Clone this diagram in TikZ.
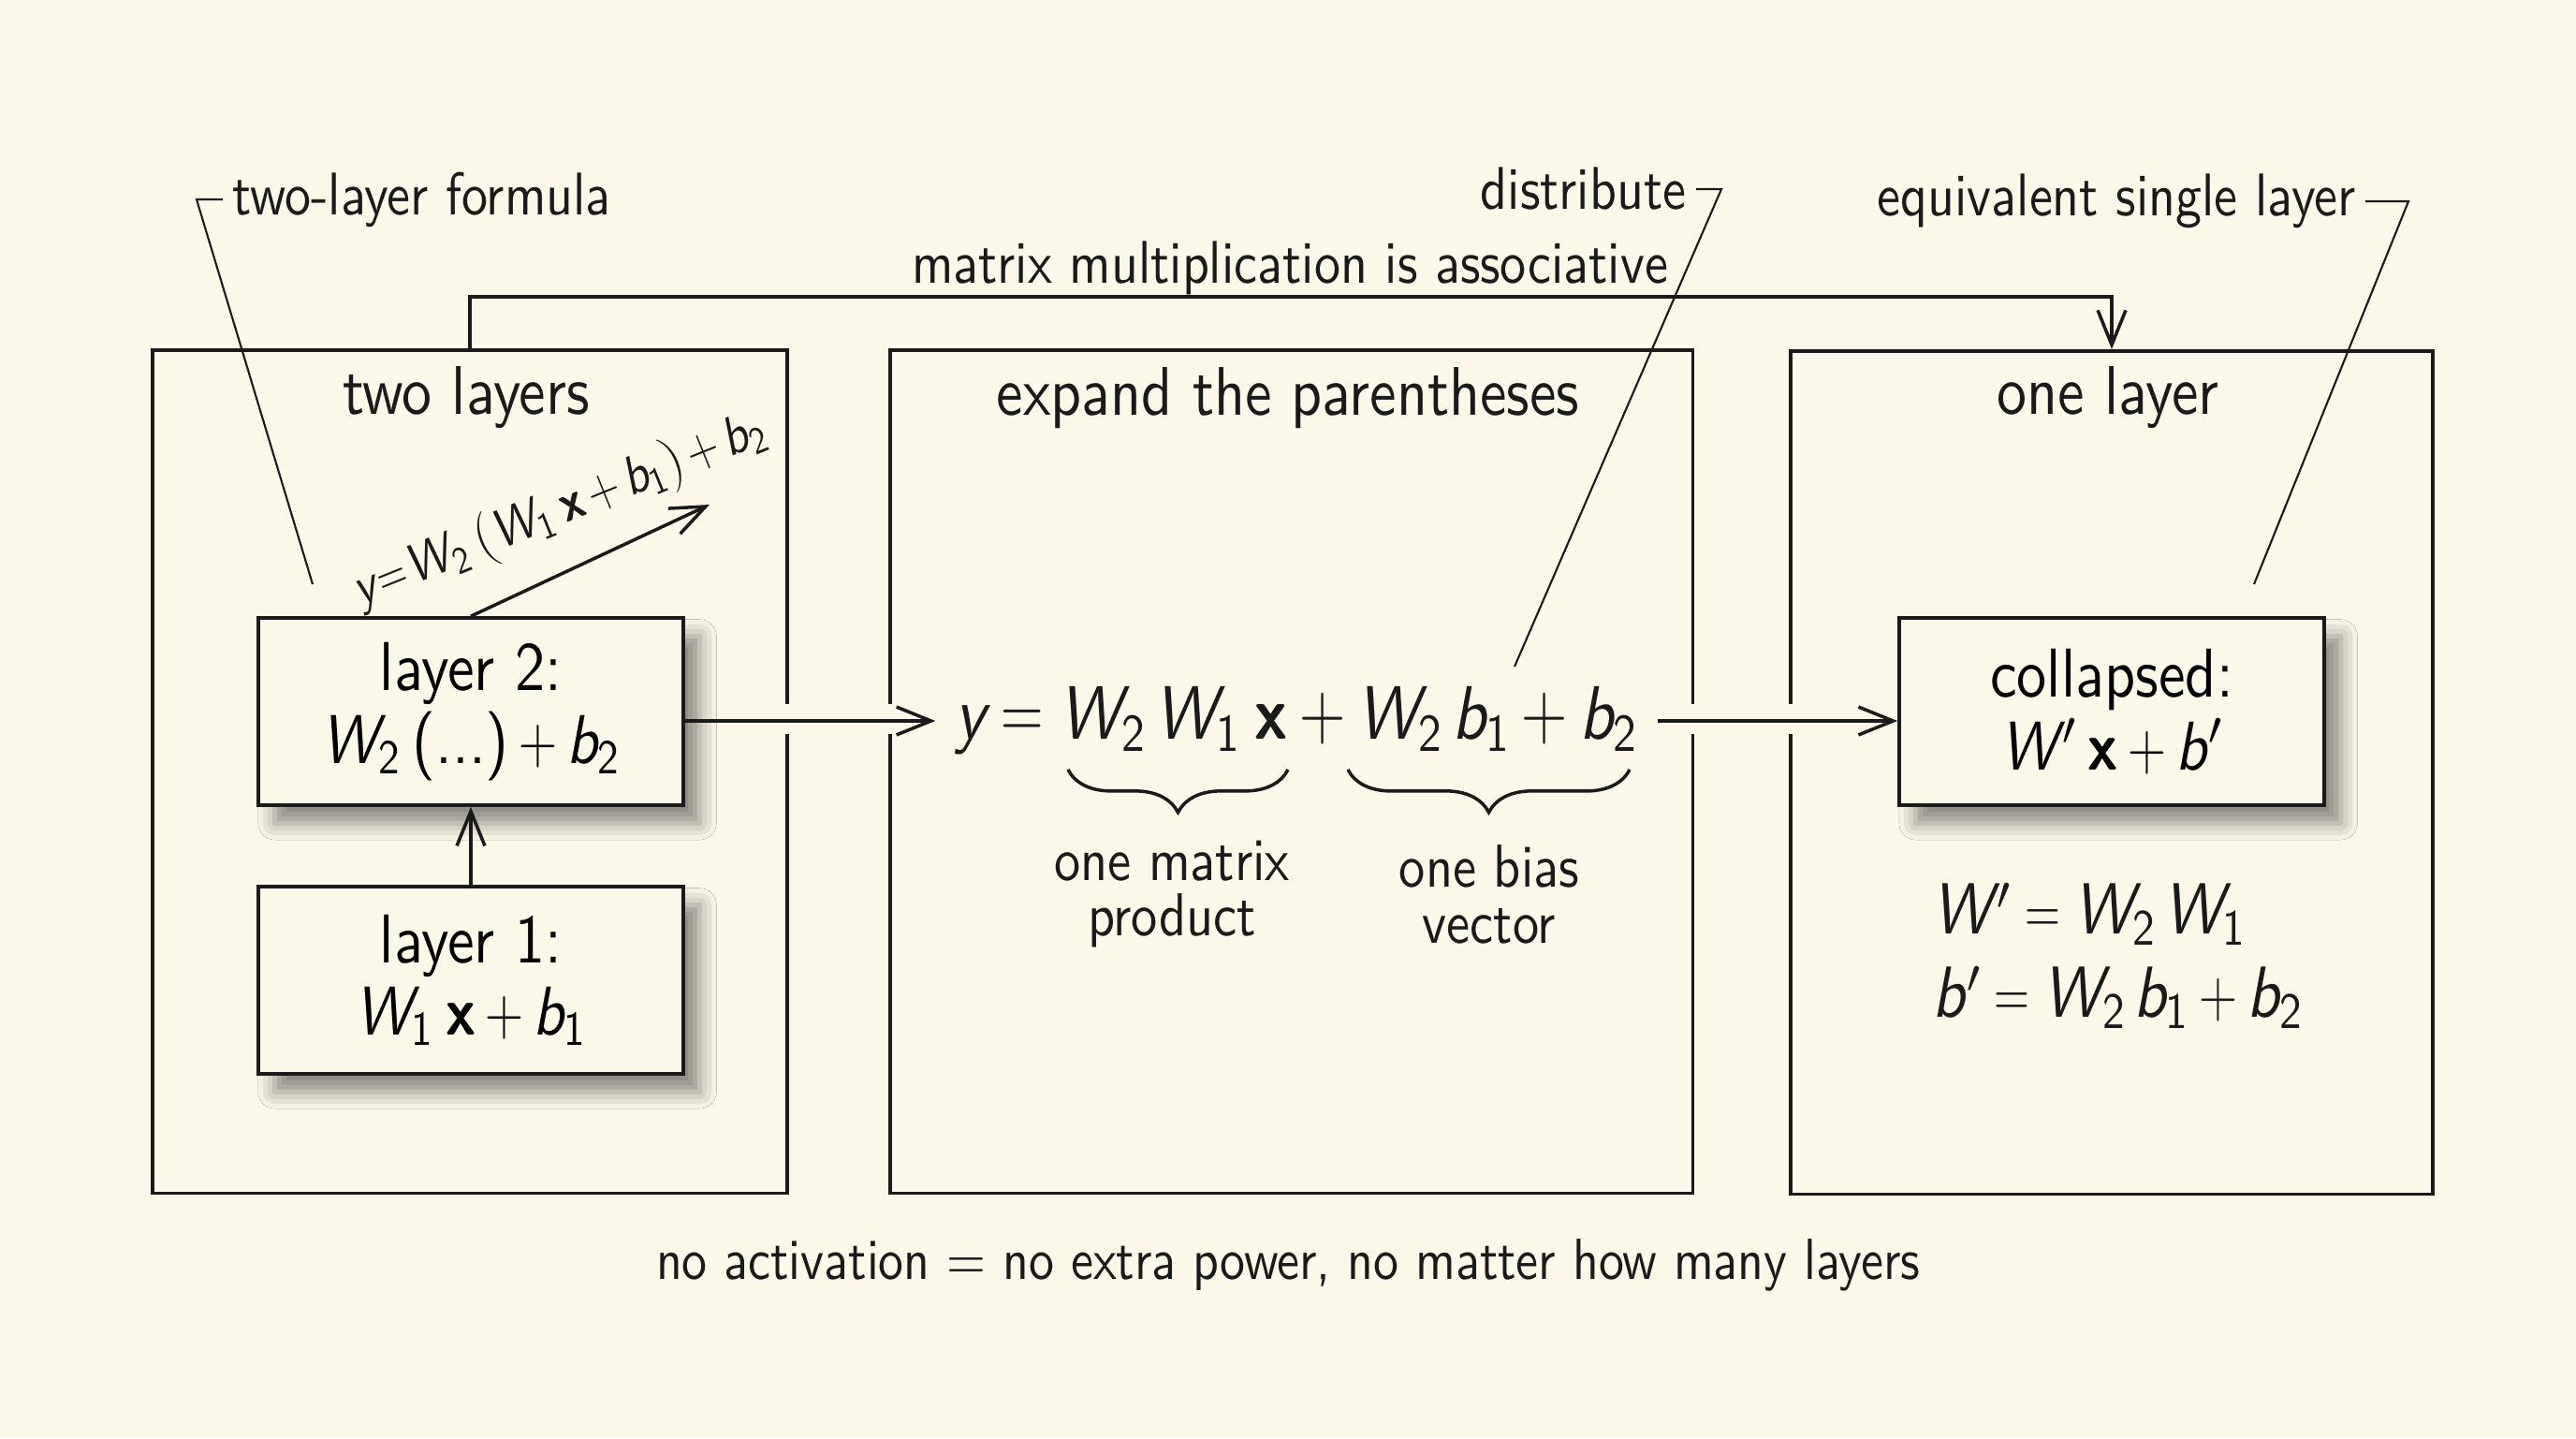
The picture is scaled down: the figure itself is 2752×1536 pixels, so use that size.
\documentclass[tikz,border=0pt]{standalone}
\usepackage{amsmath}
\usepackage{graphicx}
\usepackage{fontspec}
\setsansfont{lmsans10-regular.otf}[FakeStretch=0.87,BoldFont=lmsans10-bold.otf,ItalicFont=lmsans10-oblique.otf,BoldItalicFont=lmsans10-boldoblique.otf]
\renewcommand\familydefault{\sfdefault}
\usetikzlibrary{arrows.meta,decorations.pathreplacing,shadows.blur}
\definecolor{bg}{HTML}{FBF7E9}
\definecolor{ink}{HTML}{1A1A1A}
\newcommand\iv[1]{\textit{#1}}
\newcommand\Wi[1]{\iv{W}_{\textsf{#1}}}
\newcommand\bi[1]{\iv{b}_{\textsf{#1}}}
\newcommand\Wp{\iv{W}\kern1.5pt'}
\newcommand\bp{\iv{b}\kern0.5pt'}
\newcommand\xb{\textbf{x}}
\newcommand\myskip{\mkern1.8mu}
\newcommand\eq{\mathrel{\scalebox{0.72}[1]{$=$}}}
\newcommand\pl{\mathbin{\scalebox{0.78}[1]{$+$}}}
\newcommand\tightmath{\thickmuskip=3.5mu\medmuskip=2.5mu\relax}
\newcommand\slmath{\thickmuskip=1mu\medmuskip=2mu\relax}
\tikzset{
  bigbox/.style={draw=ink, line width=1pt, minimum height=9cm},
  inbox/.style={draw=ink, line width=1pt, fill=bg, minimum width=4.54cm, minimum height=2cm, align=center,
     font=\fontsize{21}{22}\selectfont\tightmath,
     blur shadow={shadow xshift=5pt, shadow yshift=-5.5pt, shadow blur radius=5pt, shadow opacity=45}},
  ttl/.style={font=\fontsize{20.9}{24}\selectfont, text=ink},
  lab/.style={font=\fontsize{18.3}{20}\selectfont, inner sep=0.1cm, text=ink},
  sub/.style={font=\fontsize{18.4}{17}\selectfont, text=ink, align=center},
  arr/.style={-{Straight Barb[length=10.5pt,width=8.5pt]}, line width=1pt, draw=ink},
  lead/.style={line width=0.6pt, draw=ink},
  brc/.style={decorate, decoration={brace, mirror, amplitude=13pt}, line width=1pt, draw=ink},
}
\begin{document}
\begin{tikzpicture}[x=0.01cm, y=-0.01cm]
\fill[bg] (0,0) rectangle (2752,1536);
\useasboundingbox (0,0) rectangle (2752,1536);

% big panels
\node[bigbox, minimum width=6.78cm] (L) at (502,824) {};
\node[bigbox, minimum width=8.57cm] (M) at (1379.5,824) {};
\node[bigbox, minimum width=6.86cm] (R) at (2256,825) {};

% gaps where the arrows pass
\fill[bg] (834,752) rectangle (848,784);
\fill[bg] (944,752) rectangle (958,784);
\fill[bg] (1801,752) rectangle (1815,784);
\fill[bg] (1906,752) rectangle (1920,784);

% titles
\node[ttl] (tL) at (498,425) {two layers};
\node[ttl] (tM) at (1376,425) {expand the parentheses};
\node[ttl] (tR) at (2252,425) {one layer};

% inner boxes
\node[inbox] (L2) at (503,760) {layer 2:\\ $\Wi2\,\text{(...)} \pl \bi2$};
\node[inbox] (L1) at (503,1047) {layer 1:\\ $\Wi1\,\xb \pl \bi1$};
\node[inbox] (C) at (2256,760) {collapsed:\\ $\Wp\,\xb \pl \bp$};

% middle formula
\node[font=\fontsize{23}{26}\selectfont\tightmath, text=ink, inner sep=0.2cm] (F) at (1385,770)
  {$\iv{y} \eq \Wi2\myskip\Wi1\,\xb \pl \Wi2\myskip\bi1 \pl \bi2$};
\draw[brc] (1141,822) -- (1376,822);
\draw[brc] (1440,822) -- (1741,822);
\node[sub] (p1) at (1252,955) {one matrix\\product};
\node[sub] (p2) at (1591,955) {one bias\\vector};

% right equations
\node[anchor=west, text=ink, font=\fontsize{22}{26}\selectfont\tightmath] (e1) at (2052,976) {$\Wp \eq \Wi2\myskip\Wi1$};
\node[anchor=west, text=ink, font=\fontsize{22}{26}\selectfont\tightmath] (e2) at (2052,1065) {$\bp \eq \Wi2\myskip\bi1 \pl \bi2$};

% arrows
\draw[arr] (L1.north) -- (L2.south);
\draw[arr] (L2.east |- F.west) -- (F.west);
\draw[arr] (F.east) -- (C.west |- F.east);
\draw[arr] (L.north) -- ++(0,-55) -| (R.north);
\node[lab] (assoc) at (1378,286) {matrix multiplication is associative};

\coordinate (sl) at (758,539);
\draw[arr] (L2.north) -- (sl);
\node[text=ink, font=\fontsize{16.5}{18}\selectfont\slmath, rotate=22] (slab) at (598,545)
  {$\iv{y}\eq\Wi2\,(\Wi1\,\xb \pl \bi1) \pl \bi2$};

% leaders
\node[lab, anchor=west] (lf) at (238,213) {two-layer formula};
\coordinate (lf1) at (210,213);
\coordinate (lf2) at (334,624);
\draw[lead] (lf.west) -- (lf1) -- (lf2);

\node[lab, anchor=east] (ld) at (1812,202) {distribute};
\coordinate (ld1) at (1839,202);
\coordinate (ld2) at (1618,712);
\draw[lead] (ld.east) -- (ld1) -- (ld2);

\node[lab, anchor=east] (le) at (2527,215) {equivalent single layer};
\coordinate (le1) at (2573,215);
\coordinate (le2) at (2408,624);
\draw[lead] (le.east) -- (le1) -- (le2);

% bottom note
\node[lab, font=\fontsize{17.6}{20}\selectfont] (note) at (1376,1351) {no activation = no extra power, no matter how many layers};
\end{tikzpicture}
\end{document}
